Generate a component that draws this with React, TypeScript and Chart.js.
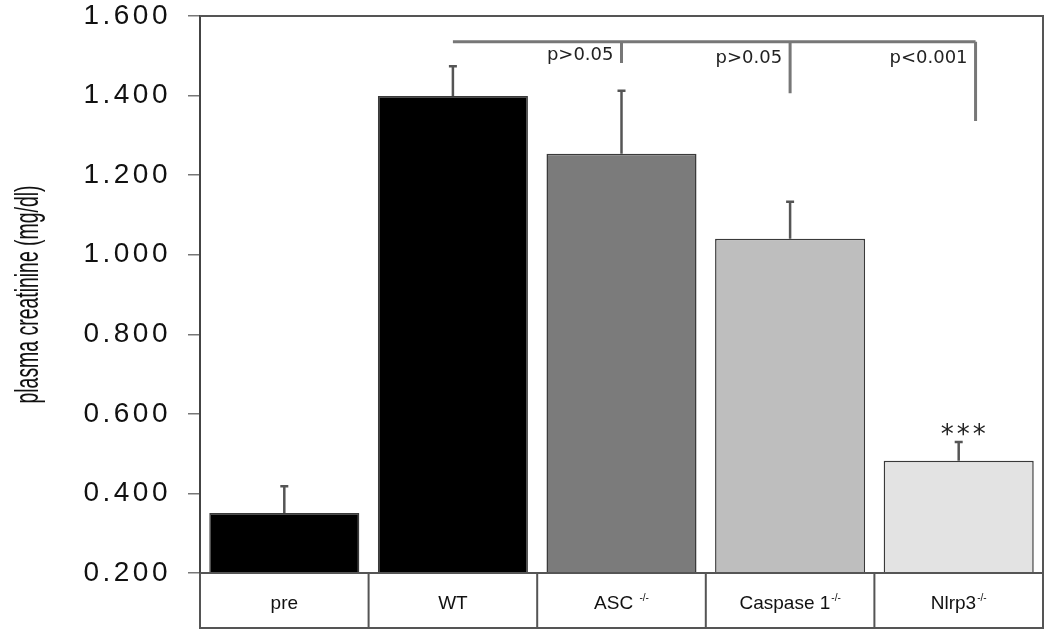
import { useEffect, useRef } from 'react';
import { Chart, registerables } from 'chart.js';

Chart.register(...registerables);

// ---- data ----
const categories = ['pre', 'WT', 'ASC ', 'Caspase 1', 'Nlrp3'];
const categorySup = ['', '', '-/-', '-/-', '-/-'];
const means = [0.351, 1.399, 1.254, 1.04, 0.482];
const sems = [0.067, 0.075, 0.158, 0.093, 0.047];
const barColors = ['#000000', '#000000', '#7b7b7b', '#bebebe', '#e3e3e3'];
const yMin = 0.2;
const yMax = 1.6;
const yStep = 0.2;
const yTitle = 'plasma creatinine (mg/dl)';

// significance bracket (x in category units, y in data units)
const bracketStart = 1;
const bracketLevel = 1.535;
const bracketDrops = [2, 3, 4.1];
const bracketDropEnds = [1.482, 1.406, 1.336];
const pLabels = ['p>0.05', 'p>0.05', 'p<0.001'];
const pLabelLevels = [1.502, 1.494, 1.494];
const starLabel = '***';
const starIndex = 4;
const starLevel = 0.565;

const SANS = "'Liberation Sans', Arial, sans-serif";

const overlay = {
  id: 'overlay',
  beforeDraw(chart: any) {
    chart.ctx.letterSpacing = '3.5px';
  },
  beforeDatasetsDraw(chart: any) {
    chart.ctx.letterSpacing = '0px';
  },
  afterDatasetsDraw(chart: any) {
    const { ctx, chartArea: a } = chart;
    const x = chart.scales.x;
    const y = chart.scales.y;
    const step = x.getPixelForValue(1) - x.getPixelForValue(0);
    const xAt = (v: number) => {
      const f = Math.floor(v);
      return x.getPixelForValue(f) + (v - f) * step;
    };
    const tableBottom = a.bottom + 55;
    ctx.save();
    ctx.letterSpacing = '0px';

    // error bars
    ctx.strokeStyle = '#555';
    ctx.lineWidth = 2.5;
    means.forEach((m, i) => {
      const cx = x.getPixelForValue(i);
      const yb = y.getPixelForValue(m);
      const yt = y.getPixelForValue(m + sems[i]);
      ctx.beginPath();
      ctx.moveTo(cx, yb);
      ctx.lineTo(cx, yt);
      ctx.moveTo(cx - 4, yt);
      ctx.lineTo(cx + 4, yt);
      ctx.stroke();
    });

    // frame + table
    ctx.strokeStyle = '#555';
    ctx.lineWidth = 2;
    ctx.beginPath();
    ctx.moveTo(a.left, a.top);
    ctx.lineTo(a.right, a.top);
    ctx.lineTo(a.right, tableBottom);
    ctx.lineTo(a.left, tableBottom);
    ctx.lineTo(a.left, a.bottom);
    ctx.moveTo(a.left, a.bottom);
    ctx.lineTo(a.right, a.bottom);
    for (let i = 1; i < categories.length; i++) {
      const dx = xAt(i - 0.5);
      ctx.moveTo(dx, a.bottom);
      ctx.lineTo(dx, tableBottom);
    }
    ctx.stroke();

    // category labels with superscripts
    ctx.fillStyle = '#111';
    ctx.textBaseline = 'alphabetic';
    ctx.textAlign = 'left';
    const mainFont = `19px ${SANS}`;
    const supFont = `10px ${SANS}`;
    categories.forEach((c, i) => {
      ctx.font = mainFont;
      const w1 = ctx.measureText(c).width;
      ctx.font = supFont;
      const w2 = categorySup[i] ? ctx.measureText(categorySup[i]).width + 1 : 0;
      const cx = x.getPixelForValue(i);
      const sx = cx - (w1 + w2) / 2;
      const base = a.bottom + 36;
      ctx.font = mainFont;
      ctx.fillText(c, sx, base);
      if (categorySup[i]) {
        ctx.font = supFont;
        ctx.fillText(categorySup[i], sx + w1 + 1, base - 8);
      }
    });

    // significance bracket
    ctx.strokeStyle = '#777';
    ctx.lineWidth = 3;
    ctx.beginPath();
    const by = y.getPixelForValue(bracketLevel);
    ctx.moveTo(xAt(bracketStart), by);
    ctx.lineTo(xAt(bracketDrops[bracketDrops.length - 1]), by);
    bracketDrops.forEach((d, i) => {
      ctx.moveTo(xAt(d), by);
      ctx.lineTo(xAt(d), y.getPixelForValue(bracketDropEnds[i]));
    });
    ctx.stroke();

    ctx.fillStyle = '#222';
    ctx.font = `18px 'DejaVu Sans', Verdana, sans-serif`;
    ctx.textAlign = 'right';
    ctx.textBaseline = 'middle';
    pLabels.forEach((p, i) => {
      ctx.fillText(p, xAt(bracketDrops[i]) - 8, y.getPixelForValue(pLabelLevels[i]));
    });

    // stars
    ctx.font = `26px 'DejaVu Sans', sans-serif`;
    ctx.letterSpacing = '3px';
    ctx.textAlign = 'center';
    ctx.fillStyle = '#222';
    ctx.fillText(starLabel, x.getPixelForValue(starIndex) + 6, y.getPixelForValue(starLevel) + 8);
    ctx.letterSpacing = '0px';

    // y title, condensed
    ctx.font = `34px ${SANS}`;
    ctx.fillStyle = '#111';
    const tw = ctx.measureText(yTitle).width;
    const targetLen = 218;
    ctx.translate(38, (a.top + a.bottom) / 2);
    ctx.rotate(-Math.PI / 2);
    ctx.scale(targetLen / tw, 1);
    ctx.textAlign = 'center';
    ctx.textBaseline = 'alphabetic';
    ctx.fillText(yTitle, 0, 0);
    ctx.restore();
  },
};

export default function App() {
  const ref = useRef<HTMLCanvasElement | null>(null);
  useEffect(() => {
    if (!ref.current) return;
    const chart = new Chart(ref.current, {
      type: 'bar',
      data: {
        labels: categories.map((c, i) => c + categorySup[i]),
        datasets: [
          {
            data: means,
            backgroundColor: barColors,
            borderColor: '#3a3a3a',
            borderWidth: 1.5,
            barPercentage: 0.89,
            categoryPercentage: 1,
          },
        ],
      },
      plugins: [overlay],
      options: {
        animation: false,
        responsive: false,
        devicePixelRatio: 1,
        layout: { padding: { left: 0, top: 16, right: 7, bottom: 65 } },
        plugins: { legend: { display: false }, tooltip: { enabled: false } },
        scales: {
          x: { type: 'category', display: false, offset: true },
          y: {
            min: yMin,
            max: yMax,
            afterFit: (s: any) => {
              s.width = 200;
              s.paddingTop = 0;
              s.paddingBottom = 0;
              s.paddingLeft = 0;
              s.paddingRight = 0;
            },
            border: { display: true, color: '#444', width: 2 },
            grid: {
              drawOnChartArea: false,
              drawTicks: true,
              tickLength: 12,
              color: '#777',
              lineWidth: 1.5,
            },
            ticks: {
              stepSize: yStep,
              padding: 17,
              color: '#111',
              font: { family: SANS, size: 28, lineHeight: 1 },
              callback: (v: any) => Number(v).toFixed(3),
            },
            title: { display: false },
          },
        },
      },
    });
    return () => chart.destroy();
  }, []);
  return (
    <div style={{ position: 'absolute', left: 0, top: 0, width: 1050, height: 638, background: '#fff' }}>
      <canvas ref={ref} width={1050} height={638} />
    </div>
  );
}
